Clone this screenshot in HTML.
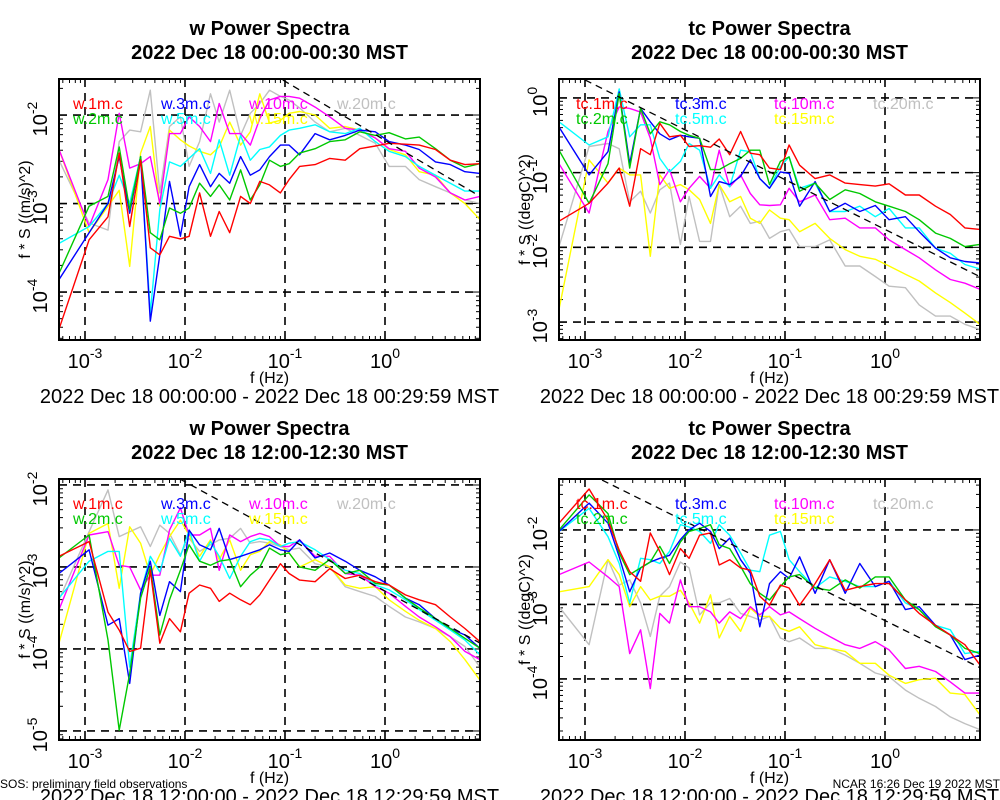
<!DOCTYPE html>
<html><head><meta charset="utf-8"><style>
html,body{margin:0;padding:0;background:#fff;}
svg{display:block;font-family:"Liberation Sans",sans-serif;}
</style></head><body>
<svg id="chart" width="1000" height="800" viewBox="0 0 1000 800" xmlns="http://www.w3.org/2000/svg"></svg>
<script>
// frequencies (Hz)
const freqs = [5.5e-4,1.1e-3,1.7e-3,2.2e-3,2.8e-3,3.6e-3,4.5e-3,5.6e-3,7e-3,9e-3,0.011,0.014,0.018,0.022,0.028,0.036,0.045,0.056,0.07,0.09,0.11,0.14,0.2,0.28,0.4,0.56,0.8,1.1,1.6,2.2,3.2,4.5,6.3,8.9];
const heights = ["1m","2m","3m","5m","10m","15m","20m"];
// values are log10(f*S)
// Panel 1: w, 00:00-00:30
const p1_1m = [-4.42,-3.41,-3.15,-2.43,-3.26,-2.51,-3.50,-3.58,-3.37,-3.40,-3.37,-2.88,-3.37,-3.09,-3.33,-2.92,-3.00,-2.75,-2.79,-2.88,-2.73,-2.58,-2.56,-2.49,-2.51,-2.38,-2.35,-2.32,-2.33,-2.34,-2.39,-2.51,-2.56,-2.55];
const p1_2m = [-3.79,-3.03,-2.92,-2.36,-3.07,-2.47,-3.33,-3.41,-3.05,-3.11,-3.05,-2.77,-2.92,-2.79,-2.96,-2.62,-2.96,-2.79,-2.51,-2.58,-2.55,-2.43,-2.38,-2.30,-2.28,-2.19,-2.23,-2.20,-2.27,-2.25,-2.38,-2.51,-2.59,-2.55];
const p1_3m = [-3.86,-3.33,-3.00,-2.47,-3.11,-2.47,-4.33,-3.58,-2.75,-3.37,-2.81,-2.56,-2.81,-2.66,-2.77,-2.47,-2.68,-2.62,-2.47,-2.34,-2.34,-2.45,-2.21,-2.28,-2.23,-2.17,-2.19,-2.30,-2.34,-2.39,-2.53,-2.56,-2.64,-2.66];
const p1_5m = [-3.45,-3.26,-3.00,-2.68,-3.00,-2.47,-4.24,-3.07,-2.53,-2.58,-2.49,-2.38,-2.66,-2.28,-2.68,-2.23,-2.51,-2.39,-2.36,-2.23,-2.17,-2.15,-2.11,-2.19,-2.21,-2.15,-2.30,-2.41,-2.47,-2.58,-2.68,-2.77,-2.86,-2.86];
const p1_10m = [-2.39,-3.26,-2.73,-1.98,-2.60,-2.55,-2.47,-3.00,-2.21,-2.21,-2.02,-2.13,-2.30,-1.87,-2.21,-2.21,-2.34,-2.04,-1.83,-1.79,-1.79,-1.81,-1.91,-2.02,-2.15,-2.17,-2.26,-2.38,-2.41,-2.60,-2.70,-2.88,-2.96,-2.92];
const p1_15m = [-2.39,-3.33,-3.03,-2.85,-3.71,-2.43,-2.13,-3.03,-2.17,-2.28,-2.35,-2.41,-2.45,-2.36,-2.08,-2.34,-2.19,-1.76,-2.09,-2.06,-1.98,-1.96,-2.00,-2.15,-2.13,-2.17,-2.26,-2.39,-2.45,-2.64,-2.68,-2.88,-3.00,-3.18];
const p1_20m = [-2.51,-3.22,-3.30,-2.30,-2.17,-2.19,-1.72,-2.88,-2.13,-2.02,-2.58,-2.30,-1.76,-2.08,-1.72,-2.23,-1.98,-1.87,-1.72,-1.79,-1.83,-1.92,-2.08,-2.19,-2.15,-2.23,-2.32,-2.58,-2.58,-2.73,-2.81,-2.88,-2.96,-3.00];
// Panel 2: tc, 00:00-00:30
const p2_1m = [-1.65,-1.41,-1.14,-0.94,-1.45,-0.68,-0.76,-0.34,-0.52,-0.50,-0.65,-0.64,-0.66,-0.55,-0.76,-0.45,-0.74,-0.76,-0.94,-0.96,-0.63,-0.90,-1.08,-1.03,-1.14,-1.16,-1.18,-1.15,-1.30,-1.30,-1.45,-1.56,-1.74,-1.76];
const p2_2m = [-0.70,-1.41,-0.88,0.06,-0.94,-0.14,-0.48,-0.32,-0.36,-0.45,-0.50,-0.54,-0.96,-0.96,-0.88,-0.81,-0.70,-0.70,-1.16,-0.85,-0.79,-1.25,-1.14,-1.36,-1.23,-1.28,-1.39,-1.45,-1.52,-1.63,-1.81,-1.88,-1.99,-1.96];
const p2_3m = [-0.39,-1.03,-0.72,0.08,-0.88,-0.14,-0.32,-0.48,-0.56,-0.50,-0.52,-0.54,-1.32,-1.12,-1.16,-1.05,-0.83,-1.08,-1.21,-0.99,-1.01,-1.45,-1.12,-1.52,-1.41,-1.52,-1.44,-1.63,-1.59,-1.79,-2.01,-2.14,-2.19,-2.21];
const p2_5m = [-0.32,-0.63,-0.52,0.12,-0.52,-0.36,-0.36,-0.81,-0.99,-0.85,-0.61,-0.70,-1.21,-1.03,-1.19,-0.70,-0.72,-1.08,-1.21,-0.92,-0.79,-1.21,-1.14,-1.52,-1.52,-1.45,-1.59,-1.48,-1.74,-1.74,-2.01,-2.08,-2.23,-2.29];
const p2_10m = [-0.88,-1.54,-0.45,-0.12,-0.14,-0.19,-0.54,-1.16,-0.96,-1.39,-1.21,-1.05,-1.21,-0.70,-1.19,-1.03,-1.28,-1.43,-1.44,-1.43,-1.21,-1.39,-1.30,-1.63,-1.61,-1.74,-1.74,-1.90,-2.03,-2.14,-2.30,-2.43,-2.48,-2.56];
const p2_15m = [-2.83,-0.83,-1.14,-0.94,-1.03,-1.03,-2.12,-1.03,-1.21,-1.16,-1.23,-1.36,-1.68,-1.16,-1.39,-1.32,-1.61,-1.68,-1.50,-1.61,-1.63,-1.79,-1.68,-1.88,-2.03,-2.12,-2.16,-2.25,-2.36,-2.45,-2.61,-2.74,-2.88,-3.03];
const p2_20m = [-1.99,-0.65,-0.61,-0.68,-1.39,-1.25,-1.54,-1.23,-1.14,-1.96,-1.32,-1.92,-1.92,-1.16,-1.59,-1.45,-1.68,-1.65,-1.88,-1.79,-1.76,-1.99,-1.99,-1.90,-2.25,-2.25,-2.39,-2.52,-2.54,-2.77,-2.92,-2.92,-3.03,-3.10];
// Panel 3: w, 12:00-12:30
const p3_1m = [-2.87,-2.69,-3.55,-3.77,-4.03,-3.99,-3.04,-3.93,-3.63,-3.79,-3.32,-3.22,-3.26,-3.42,-3.32,-3.40,-3.46,-3.34,-3.16,-2.96,-3.08,-3.16,-3.18,-3.02,-3.14,-3.10,-3.18,-3.22,-3.34,-3.40,-3.46,-3.61,-3.75,-3.91];
const p3_2m = [-2.89,-2.61,-3.89,-4.99,-4.30,-3.38,-3.00,-3.83,-3.40,-3.04,-2.73,-2.93,-2.98,-2.93,-2.91,-3.24,-3.10,-3.00,-2.77,-2.85,-2.83,-3.00,-3.04,-2.91,-3.08,-3.04,-3.20,-3.22,-3.38,-3.50,-3.63,-3.75,-3.87,-3.99];
const p3_3m = [-3.08,-2.79,-3.71,-3.63,-4.42,-3.32,-2.93,-3.59,-3.18,-3.30,-2.55,-2.73,-2.79,-2.53,-2.91,-2.87,-2.83,-2.79,-2.73,-2.79,-2.81,-2.67,-2.89,-2.83,-2.93,-3.04,-3.12,-3.22,-3.38,-3.46,-3.63,-3.75,-3.83,-3.99];
const p3_5m = [-3.38,-2.93,-2.81,-2.81,-4.22,-3.32,-2.87,-3.06,-2.65,-2.87,-2.55,-2.93,-2.69,-2.87,-3.14,-2.87,-2.69,-2.65,-2.67,-2.75,-2.71,-2.69,-2.79,-2.91,-3.04,-3.08,-3.22,-3.28,-3.40,-3.52,-3.65,-3.77,-3.89,-4.07];
const p3_10m = [-3.52,-2.61,-2.57,-2.98,-3.00,-3.28,-3.10,-3.10,-2.55,-2.28,-2.61,-2.61,-2.53,-3.04,-2.61,-2.69,-2.63,-2.59,-2.63,-2.75,-2.75,-2.67,-2.87,-2.87,-3.08,-3.10,-3.24,-3.32,-3.48,-3.61,-3.73,-3.85,-4.03,-4.13];
const p3_15m = [-3.93,-2.59,-2.47,-3.26,-2.51,-2.71,-3.10,-2.85,-2.63,-2.43,-2.61,-2.87,-2.67,-2.91,-2.67,-3.04,-2.85,-2.81,-2.69,-2.73,-2.83,-3.00,-2.91,-3.00,-3.22,-3.26,-3.24,-3.40,-3.54,-3.65,-3.75,-3.91,-4.13,-4.38];
const p3_20m = [-3.40,-2.57,-2.06,-2.63,-2.57,-2.51,-2.75,-2.49,-2.59,-2.85,-2.65,-2.81,-2.73,-2.67,-2.65,-2.53,-2.71,-2.69,-2.71,-2.75,-2.79,-2.77,-2.96,-3.00,-3.24,-3.30,-3.36,-3.48,-3.61,-3.67,-3.75,-3.85,-3.97,-4.22];
// Panel 4: tc, 12:00-12:30
const p4_1m = [-1.91,-1.45,-1.87,-2.27,-2.56,-2.69,-2.04,-2.29,-2.60,-2.25,-2.38,-2.07,-2.04,-2.47,-2.40,-2.51,-2.54,-2.89,-3.01,-2.74,-2.78,-3.01,-2.72,-2.40,-2.81,-2.76,-2.72,-2.72,-2.94,-3.12,-3.28,-3.41,-3.54,-3.81];
const p4_2m = [-2.00,-1.53,-1.78,-2.31,-2.60,-2.51,-2.43,-2.22,-2.45,-2.16,-2.02,-1.98,-1.93,-2.20,-2.25,-2.49,-2.72,-2.85,-2.94,-2.76,-2.63,-2.60,-2.78,-2.81,-2.67,-2.78,-2.63,-2.63,-2.94,-3.07,-3.30,-3.41,-3.59,-3.66];
const p4_3m = [-2.02,-1.64,-1.91,-2.36,-2.83,-2.51,-2.43,-2.38,-2.34,-2.13,-2.00,-1.91,-2.02,-2.25,-2.11,-2.40,-2.58,-3.30,-2.72,-2.56,-2.65,-2.36,-2.85,-2.40,-2.85,-2.45,-2.76,-2.69,-3.07,-3.03,-3.28,-3.41,-3.74,-3.68];
const p4_5m = [-2.02,-1.71,-2.09,-2.45,-2.98,-2.38,-2.40,-2.45,-2.29,-1.93,-1.96,-2.02,-2.18,-1.93,-2.07,-2.31,-2.54,-2.56,-2.07,-2.02,-2.40,-2.56,-2.78,-2.63,-2.69,-2.76,-2.76,-2.69,-2.98,-3.07,-3.28,-3.34,-3.66,-3.63];
const p4_10m = [-2.60,-2.43,-2.63,-2.76,-3.66,-3.34,-4.13,-3.12,-3.25,-2.67,-3.03,-3.03,-3.10,-3.25,-3.10,-3.19,-3.03,-3.14,-3.03,-3.14,-3.10,-3.19,-3.32,-3.43,-3.54,-3.59,-3.50,-3.61,-3.86,-3.83,-3.90,-4.04,-4.19,-4.19];
const p4_15m = [-2.83,-2.76,-2.40,-2.60,-3.03,-2.76,-2.94,-2.89,-2.89,-2.81,-2.98,-3.25,-2.87,-3.45,-3.16,-3.36,-3.05,-3.16,-3.16,-3.32,-3.36,-3.30,-3.54,-3.59,-3.63,-3.79,-3.79,-3.95,-4.06,-4.01,-3.99,-4.19,-4.21,-4.48];
const p4_20m = [-3.03,-3.54,-2.40,-2.74,-2.67,-2.98,-3.43,-2.89,-2.76,-2.43,-2.51,-3.14,-2.98,-2.98,-2.92,-3.12,-3.16,-3.21,-3.16,-3.45,-3.50,-3.45,-3.59,-3.59,-3.68,-3.79,-3.92,-3.97,-4.15,-4.26,-4.37,-4.51,-4.60,-4.68];
// -2/3 reference line anchors (start freq, log10 value at start)
const refStartF = [0.095, 0.001, 0.0089, 0.00148];
const refStartLog = [-1.604, 0.24, -1.927, -1.33];
const xTickExps = [-3,-2,-1,0];
const panelTitles = ["w Power Spectra","tc Power Spectra","w Power Spectra","tc Power Spectra"];
const panelTimes = ["2022 Dec 18 00:00-00:30 MST","2022 Dec 18 00:00-00:30 MST","2022 Dec 18 12:00-12:30 MST","2022 Dec 18 12:00-12:30 MST"];
const panelRanges = ["2022 Dec 18 00:00:00 - 2022 Dec 18 00:29:59 MST","2022 Dec 18 00:00:00 - 2022 Dec 18 00:29:59 MST","2022 Dec 18 12:00:00 - 2022 Dec 18 12:29:59 MST","2022 Dec 18 12:00:00 - 2022 Dec 18 12:29:59 MST"];
const yTickExps = [[-4,-3,-2],[-3,-2,-1,0],[-5,-4,-3,-2],[-4,-3,-2]];

const svg = document.getElementById('chart');
const NS = 'http://www.w3.org/2000/svg';
function mk(tag, attrs, parent){ const e=document.createElementNS(NS,tag); for(const k in attrs) e.setAttribute(k,attrs[k]); (parent||svg).appendChild(e); return e; }

const colors = {"1m":"#ff0000","2m":"#00c800","3m":"#0000ff","5m":"#00ffff","10m":"#ff00ff","15m":"#ffff00","20m":"#c0c0c0"};
const legendPos = {"1m":[0,0],"2m":[0,1],"3m":[1,0],"5m":[1,1],"10m":[2,0],"15m":[2,1],"20m":[3,0]};

const panels = [
 {ox:0, top:79, yTop:-1.593, yBot:-4.542, v:"w", ylab:"f * S ((m/s)^2)", data:{"1m":p1_1m,"2m":p1_2m,"3m":p1_3m,"5m":p1_5m,"10m":p1_10m,"15m":p1_15m,"20m":p1_20m}},
 {ox:500, top:79, yTop:0.253, yBot:-3.24, v:"tc", ylab:"f * S ((degC)^2)", data:{"1m":p2_1m,"2m":p2_2m,"3m":p2_3m,"5m":p2_5m,"10m":p2_10m,"15m":p2_15m,"20m":p2_20m}},
 {ox:0, top:479, yTop:-1.927, yBot:-5.11, v:"w", ylab:"f * S ((m/s)^2)", data:{"1m":p3_1m,"2m":p3_2m,"3m":p3_3m,"5m":p3_5m,"10m":p3_10m,"15m":p3_15m,"20m":p3_20m}},
 {ox:500, top:479, yTop:-1.316, yBot:-4.82, v:"tc", ylab:"f * S ((degC)^2)", data:{"1m":p4_1m,"2m":p4_2m,"3m":p4_3m,"5m":p4_5m,"10m":p4_10m,"15m":p4_15m,"20m":p4_20m}}
];
const H = 261;

panels.forEach((p, pi) => {
  const L = p.ox + 59, R = p.ox + 480, T = p.top, B = p.top + H;
  const xs = f => p.ox + 85 + 100*(Math.log10(f)+3);
  const ys = lg => T + (p.yTop - lg)/(p.yTop - p.yBot)*H;
  const g = mk('g', {});
  
  
  const cid = 'clip' + pi;
  const cp = mk('clipPath', {id:cid}, g); mk('rect', {x:L, y:T, width:R-L, height:H}, cp);
  const cx = (L+R)/2;
  // titles
  const t1 = mk('text', {x:cx, y:p.top-44, 'text-anchor':'middle', 'font-size':20, 'font-weight':'bold'}, g); t1.textContent = panelTitles[pi];
   
  const t2 = mk('text', {x:cx, y:p.top-20, 'text-anchor':'middle', 'font-size':20, 'font-weight':'bold'}, g); t2.textContent = panelTimes[pi];
   
  // grid
  const grid = mk('g', {stroke:'#000', 'stroke-width':1.6, 'stroke-dasharray':'8,6', fill:'none'}, g);
   
  xTickExps.forEach(e => { const x = xs(Math.pow(10,e)); mk('line', {x1:x, x2:x, y1:T, y2:B}, grid); });
  yTickExps[pi].forEach(e => { const y = ys(e); if (y>T+1 && y<B-1) mk('line', {x1:L, x2:R, y1:y, y2:y}, grid); });
  // minor ticks
  const tk = mk('g', {stroke:'#000', 'stroke-width':1}, g);
   
  for (let e=-4; e<=1; e++) for (let m=1; m<10; m++) {
    const x = xs(m*Math.pow(10,e)); if (x<L||x>R) continue; const len = m===1?8:4;
    mk('line', {x1:x, x2:x, y1:B, y2:B-len}, tk); mk('line', {x1:x, x2:x, y1:T, y2:T+len}, tk);
  }
  for (let e=-6; e<=1; e++) for (let m=1; m<10; m++) {
    const y = ys(e + Math.log10(m)); if (y<T||y>B) continue; const len = m===1?8:4;
    mk('line', {x1:L, x2:L+len, y1:y, y2:y}, tk); mk('line', {x1:R, x2:R-len, y1:y, y2:y}, tk);
  }
  // series
  const sg = mk('g', {'clip-path':'url(#'+cid+')', fill:'none', 'stroke-width':1.4, 'stroke-linejoin':'round'}, g);
  ["20m","15m","10m","5m","3m","2m","1m"].forEach(h => {
    const d = p.data[h].map((v,i) => (i?'L':'M') + xs(freqs[i]).toFixed(1) + ',' + ys(v).toFixed(1)).join('');
    const path = mk('path', {d:d, stroke:colors[h]}, sg);
    
    
  });
  // reference -2/3 line
  const f0 = refStartF[pi], l0 = refStartLog[pi], f1 = 8.9;
  const ref = mk('line', {x1:xs(f0), y1:ys(l0), x2:xs(f1), y2:ys(l0 - (2/3)*(Math.log10(f1)-Math.log10(f0))), stroke:'#000', 'stroke-width':1.3, 'stroke-dasharray':'7,5', 'clip-path':'url(#'+cid+')'}, g);
   
  // border
  const br = mk('rect', {x:L, y:T, width:R-L, height:H, fill:'none', stroke:'#000', 'stroke-width':2}, g);
   
  // legend
  heights.forEach(h => {
    const [c, r] = legendPos[h];
    const lx = p.ox + (p.v==='w' ? 73 : 76) + c*(p.v==='w' ? 88 : 99);
    const t = mk('text', {x:lx, y:T + 30 + r*15, 'font-size':16, fill:colors[h]}, g);
    t.textContent = p.v + '.' + h + '.c';
     
  });
  // x tick labels
  xTickExps.forEach(e => {
    const t = mk('text', {x:xs(Math.pow(10,e)), y:B+28, 'text-anchor':'middle', 'font-size':20}, g);
    const a = mk('tspan', {}, t); a.textContent = '10';
    const b = mk('tspan', {dy:-10, 'font-size':14}, t); b.textContent = String(e);
     
  });
  // y tick labels
  yTickExps[pi].forEach(e => {
    const y = ys(e);
    const t = mk('text', {x:0, y:0, 'text-anchor':'middle', 'font-size':20, transform:'translate('+(p.ox+47)+','+(y+4)+') rotate(-90)'}, g);
    const a = mk('tspan', {}, t); a.textContent = '10';
    const b = mk('tspan', {dy:-10, 'font-size':14}, t); b.textContent = String(e);
     
  });
  // axis titles
  const xl = mk('text', {x:cx, y:B+43, 'text-anchor':'middle', 'font-size':16}, g); xl.textContent = 'f (Hz)';
   
  const yl = mk('text', {x:0, y:0, 'text-anchor':'middle', 'font-size':16, transform:'translate('+(p.ox+30)+','+((T+B)/2)+') rotate(-90)'}, g); yl.textContent = p.ylab;
   
  const dr = mk('text', {x:cx, y:B+63, 'text-anchor':'middle', 'font-size':20}, g); dr.textContent = panelRanges[pi];
   
});
const fl = mk('text', {x:0, y:788, 'font-size':12}); fl.textContent = 'SOS: preliminary field observations';
 
const fr = mk('text', {x:1000, y:788, 'font-size':12, 'text-anchor':'end'}); fr.textContent = 'NCAR 16:26 Dec 19 2022 MST';
 
</script>
</body></html>
